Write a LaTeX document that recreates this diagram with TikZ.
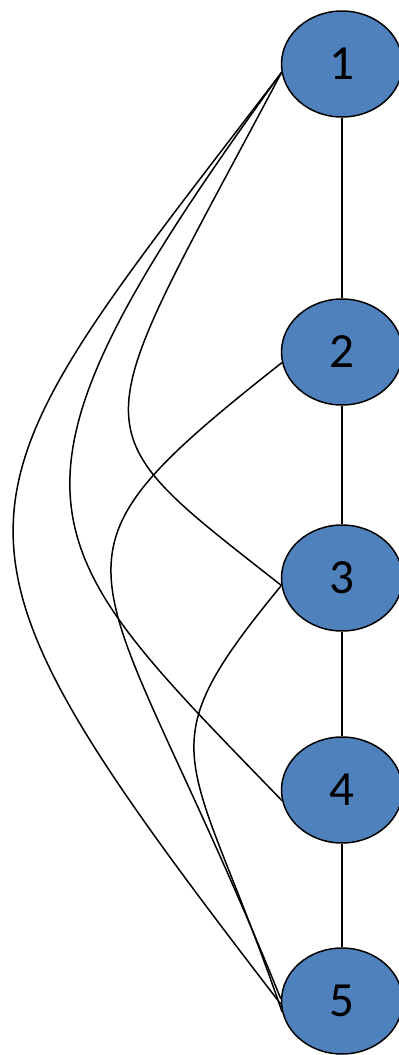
\documentclass[tikz,border=0pt]{standalone}
\usepackage{fontspec}
\setmainfont{Carlito}
\usetikzlibrary{shapes.geometric}

\definecolor{vtxblue}{HTML}{4F81BD}

\begin{document}
\begin{tikzpicture}[
    x=0.02cm, y=-0.02cm,
    vtx/.style={draw, ellipse, fill=vtxblue, line width=0.85pt,
                minimum width=2.42cm, minimum height=2.12cm, inner sep=0pt,
                font=\fontsize{28}{32}\selectfont},
    edge/.style={line width=0.85pt},
  ]
  \useasboundingbox (0,0) rectangle (399,1055);

  % -- vertices
  \node[vtx] (n1) at (342, 64)   {1};
  \node[vtx] (n2) at (342, 352)  {2};
  \node[vtx] (n3) at (342, 578)  {3};
  \node[vtx] (n4) at (342, 790)  {4};
  \node[vtx] (n5) at (342, 1001) {5};

  % -- straight chain
  \draw[edge] (n1) -- (n2);
  \draw[edge] (n2) -- (n3);
  \draw[edge] (n3) -- (n4);
  \draw[edge] (n4) -- (n5);

  % -- curved edges on the left
  \draw[edge] (n1.188) .. controls (84, 445) and (71, 420) .. (n3.187);
  \draw[edge] (n1.188) .. controls (-30, 500) and (30, 540) .. (n4.190);
  \draw[edge] (n1.188) .. controls (-57, 516) and (-95, 516) .. (n5.183);
  \draw[edge] (n2.190) .. controls (14, 574) and (98, 546) .. (n5.178);
  \draw[edge] (n3.187) .. controls (141, 756) and (191, 747) .. (n5.190);

\end{tikzpicture}
\end{document}
